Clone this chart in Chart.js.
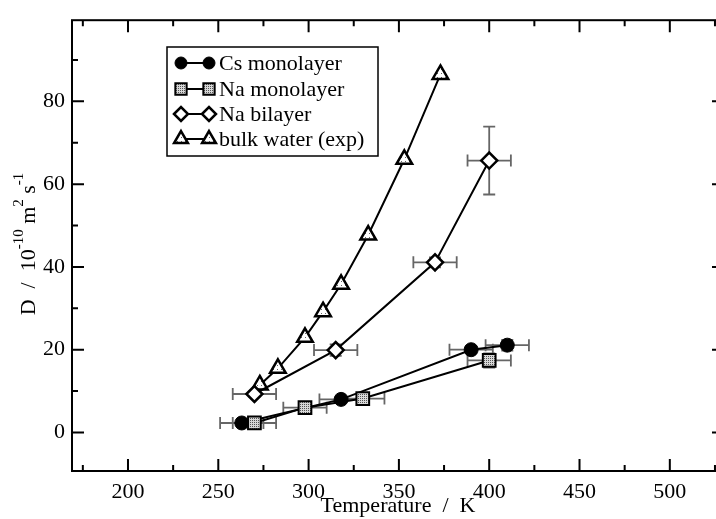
<!DOCTYPE html>
<html>
<head>
<meta charset="utf-8">
<script src="https://cdn.jsdelivr.net/npm/chart.js@4.4.0/dist/chart.umd.min.js"></script>
<style>
  html, body { margin: 0; padding: 0; background: #fff; overflow: hidden; }
  #wrap { width: 740px; height: 519px; }
</style>
</head>
<body>
<div id="wrap"><canvas id="c" width="740" height="519"></canvas></div>
<script>
const FONT = '"Liberation Serif", "Times New Roman", serif';

// Cs monolayer (simulation)
const csTemp = [263, 318, 390, 410];
const csD = [2.3, 8.0, 20.0, 21.1];
const csTErr = [12, 12, 12, 12];
const csDErr = [0.4, 0.6, 0.8, 1.3];

// Na monolayer (simulation)
const naMonoTemp = [270, 298, 330, 400];
const naMonoD = [2.3, 6.0, 8.2, 17.4];
const naMonoTErr = [12, 12, 12, 12];
const naMonoDErr = [0.3, 0.5, 0.7, 1.7];

// Na bilayer (simulation)
const naBiTemp = [270, 315, 370, 400];
const naBiD = [9.3, 19.9, 41.1, 65.7];
const naBiTErr = [12, 12, 12, 12];
const naBiDErr = [0.6, 1.4, 1.2, 8.2];

// bulk water, experiment
const bulkTemp = [273, 283, 298, 308, 318, 333, 353, 373];
const bulkD = [11.5, 15.5, 23.0, 29.2, 35.8, 47.7, 66.0, 86.5];

const xMajor = [200, 250, 300, 350, 400, 450, 500];
const xMinor = [175, 225, 275, 325, 375, 425, 475, 525];
const yMajor = [0, 20, 40, 60, 80];
const yMinor = [10, 30, 50, 70, 90];

const seriesNames = ['Cs monolayer', 'Na monolayer', 'Na bilayer', 'bulk water (exp)'];

function makePattern(size, dots, bg, fg) {
  const c = document.createElement('canvas');
  c.width = size; c.height = size;
  const g = c.getContext('2d');
  g.fillStyle = bg;
  g.fillRect(0, 0, size, size);
  g.fillStyle = fg;
  dots.forEach(d => g.fillRect(d[0], d[1], 1, 1));
  return g.createPattern(c, 'repeat');
}

const squareFill = makePattern(2, [[0, 0]], '#d8d8d8', '#555');
const triFill = makePattern(4, [[1, 1]], '#fff', '#666');

const pts = (xs, ys) => xs.map((t, i) => ({x: t, y: ys[i]}));

const errSets = [
  {t: csTemp, d: csD, te: csTErr, de: csDErr},
  {t: naMonoTemp, d: naMonoD, te: naMonoTErr, de: naMonoDErr},
  {t: naBiTemp, d: naBiD, te: naBiTErr, de: naBiDErr}
];

const markerStyles = [
  {pointStyle: 'circle', radius: 7, borderWidth: 1, bg: '#000'},
  {pointStyle: 'rect', radius: 9, borderWidth: 2, bg: squareFill},
  {pointStyle: 'rectRot', radius: 8, borderWidth: 2.5, bg: '#fff'},
  {pointStyle: 'triangle', radius: 9, borderWidth: 2.5, bg: triFill}
];

function dataset(i, data, order) {
  const m = markerStyles[i];
  return {
    label: seriesNames[i],
    data: data,
    showLine: true,
    borderColor: '#000',
    borderWidth: 2,
    pointStyle: m.pointStyle,
    pointRadius: m.radius,
    pointBorderWidth: m.borderWidth,
    pointBorderColor: '#000',
    pointBackgroundColor: m.bg,
    order: order
  };
}

const errorBars = {
  id: 'errorBars',
  beforeDatasetsDraw(chart) {
    const {ctx, scales: {x, y}} = chart;
    const cap = 6;
    ctx.save();
    ctx.strokeStyle = '#666';
    ctx.lineWidth = 1.8;
    errSets.forEach(s => {
      s.t.forEach((t, i) => {
        const px = x.getPixelForValue(t);
        const py = y.getPixelForValue(s.d[i]);
        const x0 = x.getPixelForValue(t - s.te[i]);
        const x1 = x.getPixelForValue(t + s.te[i]);
        const y0 = y.getPixelForValue(s.d[i] - s.de[i]);
        const y1 = y.getPixelForValue(s.d[i] + s.de[i]);
        ctx.beginPath();
        ctx.moveTo(x0, py); ctx.lineTo(x1, py);
        ctx.moveTo(x0, py - cap); ctx.lineTo(x0, py + cap);
        ctx.moveTo(x1, py - cap); ctx.lineTo(x1, py + cap);
        ctx.moveTo(px, y0); ctx.lineTo(px, y1);
        ctx.moveTo(px - cap, y0); ctx.lineTo(px + cap, y0);
        ctx.moveTo(px - cap, y1); ctx.lineTo(px + cap, y1);
        ctx.stroke();
      });
    });
    ctx.restore();
  }
};

const frame = {
  id: 'frame',
  afterDraw(chart) {
    const {ctx, chartArea: a, scales: {x, y}} = chart;
    ctx.save();
    ctx.strokeStyle = '#000';
    ctx.lineWidth = 2;
    ctx.strokeRect(a.left, a.top, a.right - a.left, a.bottom - a.top);
    ctx.beginPath();
    const xt = (vals, len) => vals.forEach(v => {
      const p = x.getPixelForValue(v);
      ctx.moveTo(p, a.bottom); ctx.lineTo(p, a.bottom - len);
      ctx.moveTo(p, a.top); ctx.lineTo(p, a.top + len);
    });
    const yt = (vals, len) => vals.forEach(v => {
      const p = y.getPixelForValue(v);
      ctx.moveTo(a.left, p); ctx.lineTo(a.left + len, p);
      ctx.moveTo(a.right, p); ctx.lineTo(a.right - len, p);
    });
    xt(xMajor, 12); xt(xMinor, 6);
    yt(yMajor, 12); yt(yMinor, 6);
    ctx.stroke();
    ctx.restore();
  }
};

const legendBox = {
  id: 'legendBox',
  afterDraw(chart) {
    const ctx = chart.ctx;
    const box = {left: 167, top: 47, right: 378, bottom: 156};
    const rows = [63, 89, 114, 139];
    ctx.save();
    ctx.fillStyle = '#fff';
    ctx.fillRect(box.left, box.top, box.right - box.left, box.bottom - box.top);
    ctx.strokeStyle = '#000';
    ctx.lineWidth = 1.5;
    ctx.strokeRect(box.left, box.top, box.right - box.left, box.bottom - box.top);
    ctx.font = '22px ' + FONT;
    ctx.textBaseline = 'middle';
    ctx.textAlign = 'left';
    seriesNames.forEach((name, i) => {
      const yy = rows[i];
      const m = markerStyles[i];
      ctx.strokeStyle = '#000';
      ctx.lineWidth = 2;
      ctx.beginPath();
      ctx.moveTo(181, yy); ctx.lineTo(209, yy);
      ctx.stroke();
      [181, 209].forEach(xx => {
        ctx.fillStyle = m.bg;
        ctx.strokeStyle = '#000';
        ctx.lineWidth = m.borderWidth;
        Chart.helpers.drawPoint(ctx, {pointStyle: m.pointStyle, radius: m.radius - 1, rotation: 0, borderWidth: m.borderWidth}, xx, yy);
      });
      ctx.fillStyle = '#000';
      ctx.fillText(name, 219, yy + 1);
    });
    ctx.restore();
  }
};

const yTitle = {
  id: 'yTitle',
  afterDraw(chart) {
    const ctx = chart.ctx;
    const parts = [
      ['D  /  10', 22, 0], ['-10', 15, -12], [' m', 22, 0], ['2', 15, -12], [' s', 22, 0], ['-1', 15, -12]
    ];
    ctx.save();
    let total = 0;
    parts.forEach(p => { ctx.font = p[1] + 'px ' + FONT; total += ctx.measureText(p[0]).width; });
    ctx.translate(35, 244);
    ctx.rotate(-Math.PI / 2);
    ctx.fillStyle = '#000';
    ctx.textBaseline = 'alphabetic';
    let cx = -total / 2;
    parts.forEach(p => {
      ctx.font = p[1] + 'px ' + FONT;
      ctx.fillText(p[0], cx, p[2]);
      cx += ctx.measureText(p[0]).width;
    });
    ctx.restore();
  }
};

const tickFont = {family: FONT, size: 22};

new Chart(document.getElementById('c'), {
  type: 'scatter',
  data: {
    datasets: [
      dataset(0, pts(csTemp, csD), 2),
      dataset(1, pts(naMonoTemp, naMonoD), 1),
      dataset(2, pts(naBiTemp, naBiD), 3),
      dataset(3, pts(bulkTemp, bulkD), 4)
    ]
  },
  options: {
    responsive: false,
    animation: false,
    layout: {padding: {top: 15, right: 16, left: 0, bottom: 0}},
    plugins: {legend: {display: false}, tooltip: {enabled: false}},
    scales: {
      x: {
        type: 'linear', min: 169, max: 530,
        grid: {display: false, drawTicks: false},
        border: {display: false},
        afterBuildTicks: s => { s.ticks = xMajor.map(v => ({value: v})); },
        afterFit: s => { s.height = 48; },
        ticks: {font: tickFont, color: '#000', padding: 8, maxRotation: 0, autoSkip: false},
        title: {display: true, text: 'Temperature  /  K', font: tickFont, color: '#000', padding: {top: 0, bottom: 0}}
      },
      y: {
        type: 'linear', min: -9.3, max: 99.6,
        grid: {display: false, drawTicks: false},
        border: {display: false},
        afterBuildTicks: s => { s.ticks = yMajor.map(v => ({value: v})); },
        afterFit: s => { s.width = 72; },
        ticks: {font: tickFont, color: '#000', padding: 7}
      }
    }
  },
  plugins: [errorBars, frame, legendBox, yTitle]
});
</script>
</body>
</html>
